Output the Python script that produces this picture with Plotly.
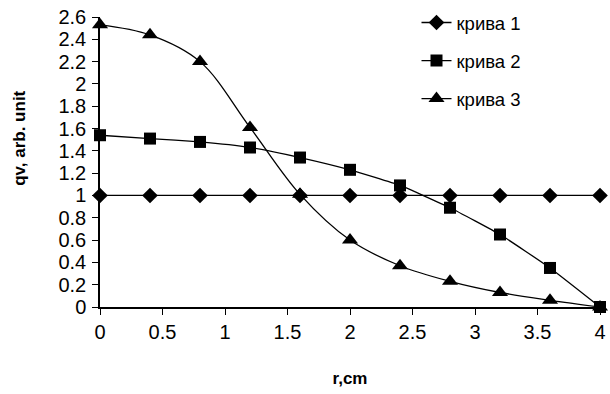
import plotly.graph_objects as go

r = [0, 0.4, 0.8, 1.2, 1.6, 2.0, 2.4, 2.8, 3.2, 3.6, 4.0]
curve1 = [1, 1, 1, 1, 1, 1, 1, 1, 1, 1, 1]
curve2 = [1.54, 1.51, 1.48, 1.43, 1.34, 1.23, 1.09, 0.89, 0.65, 0.35, 0.0]
curve3 = [2.53, 2.44, 2.20, 1.61, 1.01, 0.60, 0.37, 0.23, 0.13, 0.06, 0.0]
names = ["крива 1", "крива 2", "крива 3"]
y_ticks = [0, 0.2, 0.4, 0.6, 0.8, 1, 1.2, 1.4, 1.6, 1.8, 2, 2.2, 2.4, 2.6]
x_ticks = [0, 0.5, 1, 1.5, 2, 2.5, 3, 3.5, 4]

fig = go.Figure()
fig.add_trace(go.Scatter(x=r, y=curve1, name=names[0], mode="lines+markers",
                         line=dict(color="black", width=1.3),
                         marker=dict(symbol="diamond", size=12, color="black"),
                         legendgroup="a"))
fig.add_trace(go.Scatter(x=r, y=curve2, name=names[1], mode="lines+markers",
                         line=dict(color="black", width=1.3, shape="spline", smoothing=0.4),
                         marker=dict(symbol="square", size=12, color="black"),
                         legendgroup="b"))
fig.add_trace(go.Scatter(x=r, y=curve3, name=names[2], mode="lines+markers",
                         line=dict(color="black", width=1.3, shape="spline", smoothing=1.0),
                         marker=dict(symbol="triangle-up", size=14, color="black"),
                         legendgroup="c"))

fig.update_traces(cliponaxis=False)

fig.update_layout(
    width=610, height=394,
    margin=dict(l=100, r=4, t=17, b=87),
    paper_bgcolor="white", plot_bgcolor="white",
    font=dict(family="Liberation Sans, Arial", size=20, color="black"),
    showlegend=True,
    legend=dict(x=0.633, y=1.045, xanchor="left", yanchor="top",
                bgcolor="rgba(0,0,0,0)", tracegroupgap=11,
                font=dict(size=18.5)),
    xaxis=dict(range=[0, 4], tickvals=x_ticks, ticktext=[str(v) for v in x_ticks],
               showgrid=False, zeroline=False, showline=True, linecolor="black",
               linewidth=1.5, ticks="outside", ticklen=6, tickcolor="black",
               ticklabelstandoff=0, ticklabeloverflow="allow",
               title=dict(text="<b>r,cm</b>", standoff=30, font=dict(size=17))),
    yaxis=dict(range=[0, 2.6], tickvals=y_ticks,
               ticktext=[("%g" % v) for v in y_ticks],
               showgrid=False, zeroline=False, showline=True, linecolor="black",
               linewidth=1.5, ticks="outside", ticklen=6, tickcolor="black",
               ticklabelstandoff=2),
    annotations=[dict(text="<b>qv, arb. unit</b>", textangle=-90,
                      xref="paper", yref="paper",
                      x=-0.16, y=0.58, xanchor="center", yanchor="middle",
                      showarrow=False, font=dict(size=17))],
)

fig.write_html("out.html")
